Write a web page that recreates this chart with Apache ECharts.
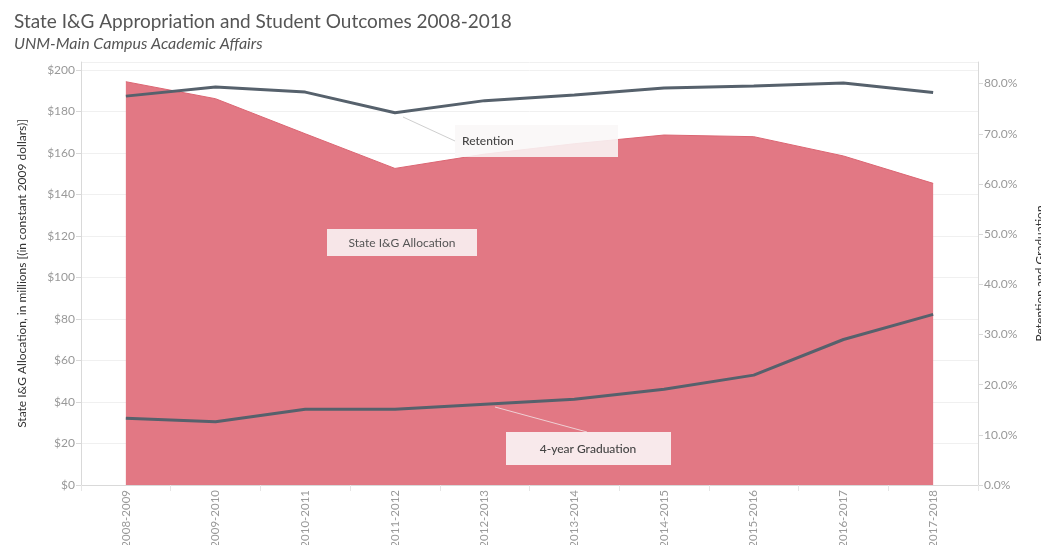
<!DOCTYPE html>
<html>
<head>
<meta charset="utf-8">
<script src="https://cdn.jsdelivr.net/npm/echarts@6/dist/echarts.min.js"></script>
<style>
html,body{margin:0;padding:0;background:#fff;}
#chart{width:1041px;height:545px;}
</style>
</head>
<body>
<div id="chart"></div>
<script>
const years = ['2008-2009','2009-2010','2010-2011','2011-2012','2012-2013','2013-2014','2014-2015','2015-2016','2016-2017','2017-2018'];
const allocation = [194.4, 186.2, 169.3, 152.6, 159.5, 164.5, 168.7, 167.9, 158.6, 145.4];
const retention = [77.5, 79.3, 78.3, 74.2, 76.6, 77.7, 79.1, 79.5, 80.1, 78.2];
const graduation = [13.3, 12.6, 15.1, 15.1, 16.1, 17.1, 19.1, 21.9, 29.0, 34.0];

const FONT = 'Lato, "Open Sans", sans-serif';
const chart = echarts.init(document.getElementById('chart'));

chart.setOption({
  animation: false,
  backgroundColor: '#fff',
  textStyle: { fontFamily: FONT },
  title: {
    text: 'State I&G Appropriation and Student Outcomes 2008-2018',
    subtext: 'UNM-Main Campus Academic Affairs',
    left: 9, top: 7, itemGap: 5,
    textStyle: { fontFamily: FONT, fontSize: 19, fontWeight: 'normal', color: '#555' },
    subtextStyle: { fontFamily: FONT, fontSize: 16, fontStyle: 'italic', color: '#555' }
  },
  grid: { left: 81, right: 63, top: 62, bottom: 60, outerBoundsMode: 'none', containLabel: false },
  xAxis: {
    type: 'category',
    data: years,
    boundaryGap: true,
    axisLine: { show: true, lineStyle: { color: '#d9d9d9' } },
    axisTick: { show: true, length: 6, lineStyle: { color: '#e6e6e6' } },
    axisLabel: { rotate: 90, color: '#999', fontSize: 11.5, margin: 5, fontFamily: FONT }
  },
  yAxis: [
    {
      type: 'value', min: 0, max: 203.9, interval: 20,
      name: 'State I&G Allocation, in millions [(in constant 2009 dollars)]',
      nameLocation: 'middle', nameGap: 53, nameRotate: 90,
      nameTextStyle: { color: '#333', fontSize: 12, fontFamily: FONT },
      axisLine: { show: true, lineStyle: { color: '#d9d9d9' } },
      axisTick: { show: true, length: 5, lineStyle: { color: '#d9d9d9' } },
      axisLabel: { showMaxLabel: false, color: '#999', fontSize: 12, margin: 6, fontFamily: FONT, formatter: v => '$' + v },
      splitLine: { show: true, lineStyle: { color: '#f0f0f0' } }
    },
    {
      type: 'value', min: 0, max: 84.3, interval: 10, position: 'right',
      name: 'Retention and Graduation',
      nameLocation: 'middle', nameGap: 56, nameRotate: 90,
      nameTextStyle: { color: '#333', fontSize: 12, fontFamily: FONT },
      axisLine: { show: true, lineStyle: { color: '#d9d9d9' } },
      axisTick: { show: true, length: 5, lineStyle: { color: '#d9d9d9' } },
      axisLabel: { showMaxLabel: false, color: '#999', fontSize: 12, margin: 6, fontFamily: FONT, formatter: v => v.toFixed(1) + '%' },
      splitLine: { show: false }
    }
  ],
  series: [
    {
      name: 'State I&G Allocation', type: 'line', yAxisIndex: 0, data: allocation,
      symbol: 'none', z: 1,
      lineStyle: { color: '#dc6673', width: 1 },
      areaStyle: { color: '#e27884', opacity: 1 }
    },
    {
      name: 'Retention', type: 'line', yAxisIndex: 1, data: retention,
      symbol: 'none', z: 3,
      lineStyle: { color: '#56616c', width: 3 }
    },
    {
      name: '4-year Graduation', type: 'line', yAxisIndex: 1, data: graduation,
      symbol: 'none', z: 3,
      lineStyle: { color: '#56616c', width: 3 }
    }
  ],
  graphic: [
    { type: 'line', shape: { x1: 403, y1: 117, x2: 455, y2: 141 }, style: { stroke: '#cfcfcf', lineWidth: 1 }, z: 10 },
    { type: 'rect', shape: { x: 455, y: 125, width: 163, height: 32 }, style: { fill: 'rgba(249,247,247,0.88)' }, z: 10 },
    { type: 'text', x: 462, y: 141, style: { text: 'Retention', fill: '#444', font: '500 12px ' + FONT, textVerticalAlign: 'middle' }, z: 11 },

    { type: 'rect', shape: { x: 327, y: 229, width: 150, height: 27 }, style: { fill: 'rgba(249,240,241,0.92)' }, z: 10 },
    { type: 'text', x: 402, y: 243, style: { text: 'State I&G Allocation', fill: '#555', font: '12px ' + FONT, textAlign: 'center', textVerticalAlign: 'middle' }, z: 11 },

    { type: 'line', shape: { x1: 495, y1: 407, x2: 587, y2: 432 }, style: { stroke: '#efd0d4', lineWidth: 1 }, z: 10 },
    { type: 'rect', shape: { x: 506, y: 432, width: 165, height: 33 }, style: { fill: 'rgba(249,240,241,0.94)' }, z: 10 },
    { type: 'text', x: 588, y: 449, style: { text: '4-year Graduation', fill: '#444', font: '500 12px ' + FONT, textAlign: 'center', textVerticalAlign: 'middle' }, z: 11 }
  ]
});
</script>
</body>
</html>
